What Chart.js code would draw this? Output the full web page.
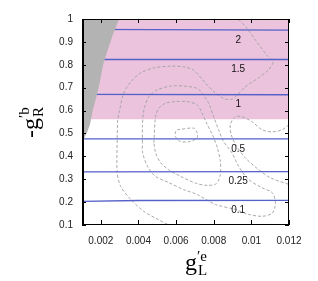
<!DOCTYPE html>
<html>
<head>
<meta charset="utf-8">
<script src="https://cdn.jsdelivr.net/npm/chart.js@4.4.1/dist/chart.umd.min.js"></script>
<style>
html, body { margin: 0; padding: 0; background: #fff; }
</style>
</head>
<body>
<canvas id="c" width="318" height="281"></canvas>
<script>
// tick positions
var xTicks = [0.002, 0.004, 0.006, 0.008, 0.01, 0.012];
var yTicks = [0.1, 0.2, 0.3, 0.4, 0.5, 0.6, 0.7, 0.8, 0.9, 1];

// lines of constant value (blue)
var levelNames = ["2", "1.5", "1", "0.5", "0.25", "0.1"];
var levelLines = [
    [[0.001, 0.955], [0.012, 0.951]],
    [[0.001, 0.823], [0.012, 0.823]],
    [[0.001, 0.671], [0.012, 0.669]],
    [[0.001, 0.476], [0.012, 0.476]],
    [[0.001, 0.332], [0.012, 0.333]],
    [[0.001, 0.203], [0.004, 0.207], [0.012, 0.208]]
];
var levelLabelX = 0.0093;

// shaded bands
var pinkBand = [[0.001, 0.562], [0.012, 0.562]];
var greyEdge = [[0.001, 0.46], [0.00126, 0.503], [0.00142, 0.538], [0.00158, 0.603],
    [0.00179, 0.668], [0.00197, 0.733], [0.00213, 0.803], [0.0024, 0.873],
    [0.00263, 0.929], [0.00297, 1.0]];

// dashed fit contours
var contourA = [[0.00554, 0.103], [0.00502, 0.125], [0.00428, 0.160], [0.00359, 0.212],
    [0.00306, 0.268], [0.00287, 0.329], [0.00287, 0.473], [0.00290, 0.560], [0.00297, 0.590],
    [0.00322, 0.677], [0.00359, 0.725], [0.00412, 0.764], [0.00480, 0.786], [0.00570, 0.794],
    [0.00639, 0.791], [0.00692, 0.777], [0.00756, 0.720], [0.00808, 0.677], [0.00861, 0.650],
    [0.00898, 0.650], [0.00925, 0.668], [0.00967, 0.703], [0.01036, 0.742], [0.01089, 0.777],
    [0.01115, 0.812], [0.01082, 0.842], [0.01029, 0.900], [0.00976, 0.960], [0.00930, 1.0]];
var contourB = [[0.00421, 0.460], [0.00421, 0.530], [0.00429, 0.603], [0.00456, 0.661],
    [0.00500, 0.690], [0.00570, 0.707], [0.00641, 0.707], [0.00712, 0.697], [0.00738, 0.676],
    [0.00773, 0.632], [0.00799, 0.574], [0.00826, 0.516], [0.00852, 0.465], [0.00897, 0.415],
    [0.00932, 0.357], [0.00985, 0.299], [0.01056, 0.263], [0.01110, 0.242], [0.01126, 0.212],
    [0.01126, 0.181], [0.01110, 0.151], [0.01057, 0.138], [0.00983, 0.147], [0.00914, 0.168],
    [0.00808, 0.190], [0.00713, 0.233], [0.00639, 0.255], [0.00560, 0.286], [0.00491, 0.312],
    [0.00449, 0.355], [0.00422, 0.416], [0.00421, 0.460]];
var contourC = [[0.00482, 0.460], [0.00491, 0.574], [0.00508, 0.610], [0.00544, 0.632],
    [0.00597, 0.639], [0.00659, 0.639], [0.00712, 0.625], [0.00738, 0.589], [0.00766, 0.538],
    [0.00793, 0.494], [0.00819, 0.438], [0.00835, 0.377], [0.00835, 0.320], [0.00814, 0.281],
    [0.00766, 0.273], [0.00703, 0.283], [0.00623, 0.313], [0.00560, 0.342], [0.00517, 0.373],
    [0.00491, 0.416], [0.00482, 0.460]];
var contourD = [[0.00606, 0.516], [0.00694, 0.523], [0.00712, 0.503], [0.00712, 0.481],
    [0.00676, 0.465], [0.00623, 0.465], [0.00597, 0.486], [0.00597, 0.507], [0.00606, 0.516]];
var contourE = [[0.012, 0.538], [0.01163, 0.516], [0.01110, 0.507], [0.01057, 0.516],
    [0.01004, 0.551], [0.00951, 0.573], [0.00914, 0.573], [0.00888, 0.538], [0.00893, 0.494],
    [0.00920, 0.447], [0.00967, 0.394], [0.01031, 0.347], [0.01099, 0.307], [0.012, 0.277]];
var contours = [contourA, contourB, contourC, contourD, contourE];

function pts(arr) {
    return arr.map(function (p) { return { x: p[0], y: p[1] }; });
}

var tickFont = { family: "'Liberation Sans', Arial, sans-serif", size: 10 };

var datasets = [];
datasets.push({
    data: pts(greyEdge), showLine: true, pointRadius: 0, borderWidth: 0,
    backgroundColor: "#b3b3b3", fill: "end", order: 0
});
for (var i = 0; i < levelLines.length; i++) {
    datasets.push({
        data: pts(levelLines[i]), showLine: true, pointRadius: 0,
        borderColor: "#5560c8", borderWidth: 1.3, order: 1
    });
}
for (var j = 0; j < contours.length; j++) {
    datasets.push({
        data: pts(contours[j]), showLine: true, pointRadius: 0, tension: 0.3,
        borderColor: "#a0a0a0", borderWidth: 0.9, borderDash: [3, 2], order: 2
    });
}
datasets.push({
    data: pts(pinkBand), showLine: true, pointRadius: 0, borderWidth: 0,
    backgroundColor: "#ebc3dd", fill: "end", order: 3
});

function lineValueAt(line, x) {
    for (var k = 0; k < line.length - 1; k++) {
        if (x >= line[k][0] && x <= line[k + 1][0]) {
            var t = (x - line[k][0]) / (line[k + 1][0] - line[k][0]);
            return line[k][1] + t * (line[k + 1][1] - line[k][1]);
        }
    }
    return line[line.length - 1][1];
}

// text with a stacked super- and subscript, like gnuplot's enhanced mode
function scriptText(ctx, x, y, main, sup, sub) {
    ctx.font = "24px 'Liberation Serif', 'DejaVu Serif', serif";
    ctx.fillText(main, x, y);
    var w = ctx.measureText(main).width;
    ctx.font = "15px 'Liberation Serif', 'DejaVu Serif', serif";
    ctx.fillText(sup, x + w, y - 9);
    ctx.fillText(sub, x + w + 1, y + 5);
}

var decor = {
    id: "decor",
    afterDatasetsDraw: function (chart) {
        var ctx = chart.ctx;
        var a = chart.chartArea;
        var xs = chart.scales.x, ys = chart.scales.y;
        ctx.save();

        // level labels, just under each blue line
        ctx.fillStyle = "#111";
        ctx.font = "10px 'Liberation Sans', Arial, sans-serif";
        ctx.textAlign = "center";
        ctx.textBaseline = "middle";
        for (var i = 0; i < levelNames.length; i++) {
            var v = lineValueAt(levelLines[i], levelLabelX);
            ctx.fillText(levelNames[i], xs.getPixelForValue(levelLabelX), ys.getPixelForValue(v) + 10);
        }

        // frame and inward ticks on all sides
        ctx.strokeStyle = "#000";
        ctx.lineWidth = 1;
        ctx.strokeRect(a.left + 0.5, a.top + 0.5, a.right - a.left - 1, a.bottom - a.top - 1);
        ctx.lineWidth = 2;
        ctx.beginPath();
        ctx.moveTo(a.left + 1, a.top);
        ctx.lineTo(a.left + 1, a.bottom);
        ctx.stroke();
        ctx.lineWidth = 1;
        ctx.beginPath();
        xTicks.forEach(function (t) {
            var px = Math.round(xs.getPixelForValue(t)) + 0.5;
            ctx.moveTo(px, a.bottom); ctx.lineTo(px, a.bottom - 5);
            ctx.moveTo(px, a.top); ctx.lineTo(px, a.top + 4);
        });
        yTicks.forEach(function (t) {
            var py = Math.round(ys.getPixelForValue(t)) + 0.5;
            ctx.moveTo(a.left, py); ctx.lineTo(a.left + 4, py);
            ctx.moveTo(a.right, py); ctx.lineTo(a.right - 4, py);
        });
        ctx.stroke();

        // axis titles
        ctx.fillStyle = "#000";
        ctx.textAlign = "left";
        ctx.textBaseline = "alphabetic";
        scriptText(ctx, 185, 270, "g", "\u2032e", "L");
        ctx.translate(38, 138);
        ctx.rotate(-Math.PI / 2);
        scriptText(ctx, 0, 0, "-g", "\u2032b", "R");
        ctx.restore();
    }
};

new Chart(document.getElementById("c"), {
    type: "scatter",
    data: { datasets: datasets },
    options: {
        responsive: false,
        animation: false,
        layout: { padding: { left: 0, top: 19, right: 29, bottom: 0 } },
        plugins: { legend: { display: false }, tooltip: { enabled: false } },
        scales: {
            x: {
                type: "linear", min: 0.001, max: 0.012,
                afterBuildTicks: function (s) { s.ticks = xTicks.map(function (v) { return { value: v }; }); },
                afterFit: function (s) { s.height = 56; },
                grid: { display: false, drawTicks: false },
                border: { display: false },
                ticks: {
                    padding: 10, color: "#222", font: tickFont, maxRotation: 0, autoSkip: false,
                    callback: function (v) { return String(+v.toFixed(4)); }
                }
            },
            y: {
                type: "linear", min: 0.1, max: 1,
                afterBuildTicks: function (s) { s.ticks = yTicks.map(function (v) { return { value: v }; }); },
                afterFit: function (s) { s.width = 82; },
                grid: { display: false, drawTicks: false },
                border: { display: false },
                ticks: {
                    padding: 9, color: "#222", font: tickFont, autoSkip: false,
                    callback: function (v) { return String(+v.toFixed(2)); }
                }
            }
        }
    },
    plugins: [decor]
});
</script>
</body>
</html>
